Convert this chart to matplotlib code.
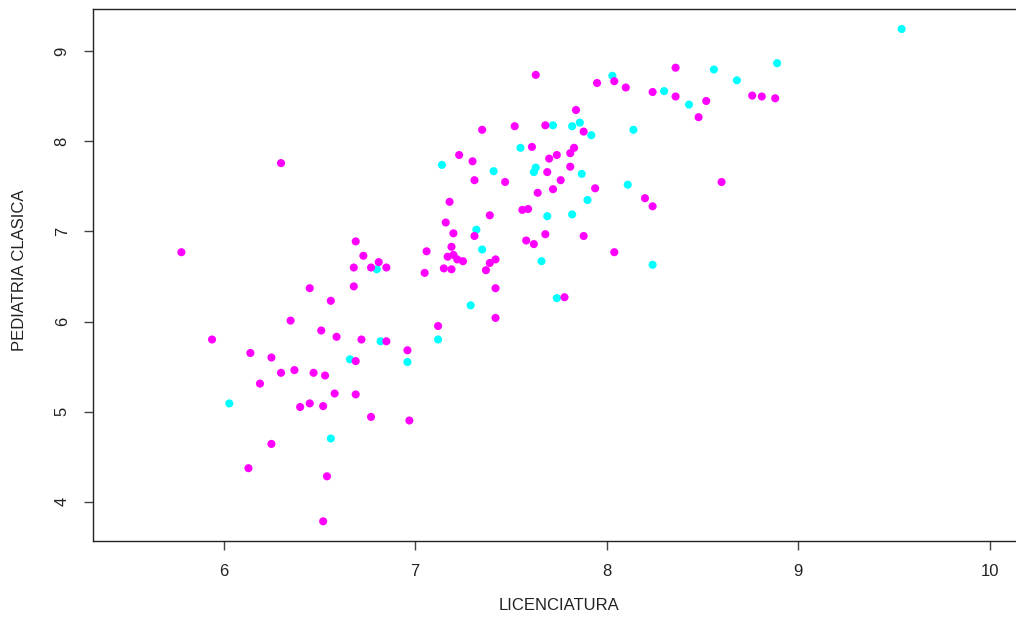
import matplotlib
matplotlib.use("Agg")
import matplotlib.pyplot as plt

# Scores of students in the two groups
lic_magenta = [5.78, 5.94, 6.30, 6.14, 6.25, 6.19, 6.30, 6.37, 6.35, 6.13,
               6.25, 6.45, 6.47, 6.40, 6.45, 6.51, 6.53, 6.52, 6.56, 6.58,
               6.54, 6.52, 6.59, 6.69, 6.68, 6.68, 6.69, 6.73, 6.77, 6.81,
               6.85, 6.72, 6.85, 6.96, 6.69, 6.77, 6.97, 7.06, 7.05, 7.15,
               7.19, 7.16, 7.20, 7.31, 7.18, 7.19, 7.17, 7.20, 7.22, 7.25,
               7.39, 7.42, 7.37, 7.39, 7.56, 7.59, 7.58, 7.62, 7.68, 7.88,
               8.04, 7.42, 7.78, 7.42, 7.12, 7.23, 7.30, 7.31, 7.47, 7.35,
               7.52, 7.68, 7.88, 7.61, 7.70, 7.74, 7.81, 7.83, 7.81, 7.69,
               7.76, 7.72, 7.64, 7.94, 8.20, 8.24, 8.60, 7.84, 7.63, 7.95,
               8.04, 8.10, 8.36, 8.24, 8.36, 8.52, 8.48, 8.76, 8.81, 8.88]
ped_magenta = [6.77, 5.80, 7.76, 5.65, 5.60, 5.31, 5.43, 5.46, 6.01, 4.37,
               4.64, 6.37, 5.43, 5.05, 5.09, 5.90, 5.40, 5.06, 6.23, 5.20,
               4.28, 3.78, 5.83, 5.19, 6.39, 6.60, 6.89, 6.73, 6.60, 6.66,
               6.60, 5.80, 5.78, 5.68, 5.56, 4.94, 4.90, 6.78, 6.54, 6.59,
               6.58, 7.10, 6.98, 6.95, 7.33, 6.83, 6.72, 6.74, 6.69, 6.67,
               6.65, 6.69, 6.57, 7.18, 7.24, 7.25, 6.90, 6.86, 6.97, 6.95,
               6.77, 6.37, 6.27, 6.04, 5.95, 7.85, 7.78, 7.57, 7.55, 8.13,
               8.17, 8.18, 8.11, 7.94, 7.81, 7.85, 7.87, 7.93, 7.72, 7.66,
               7.57, 7.47, 7.43, 7.48, 7.37, 7.28, 7.55, 8.35, 8.74, 8.65,
               8.67, 8.60, 8.82, 8.55, 8.50, 8.45, 8.27, 8.51, 8.50, 8.48]

lic_cyan = [6.03, 6.56, 6.66, 6.80, 6.82, 6.96, 7.12, 7.29, 7.14, 7.41,
            7.32, 7.35, 7.55, 7.63, 7.62, 7.66, 7.69, 7.82, 7.72, 7.82,
            7.86, 7.92, 7.87, 7.90, 7.74, 8.03, 8.14, 8.11, 8.24, 8.30,
            8.43, 8.56, 8.68, 8.89, 9.54]
ped_cyan = [5.09, 4.70, 5.58, 6.58, 5.78, 5.55, 5.80, 6.18, 7.74, 7.67,
            7.02, 6.80, 7.93, 7.71, 7.66, 6.67, 7.17, 7.19, 8.18, 8.17,
            8.21, 8.07, 7.64, 7.35, 6.26, 8.73, 8.13, 7.52, 6.63, 8.56,
            8.41, 8.80, 8.68, 8.87, 9.25]

x_ticks = [6, 7, 8, 9, 10]
y_ticks = [4, 5, 6, 7, 8, 9]
x_range = (5.5, 10.0)

plt.rcParams['font.family'] = ['Liberation Sans', 'DejaVu Sans']

W, H = 1016, 619
fig = plt.figure(figsize=(W / 100, H / 100), dpi=100)
fig.patch.set_facecolor('white')

# plot region in pixels (right edge runs slightly past the canvas)
left_px, right_px, top_px, bottom_px = 93.3, 1024.2, 9.3, 541.0
ax = fig.add_axes([left_px / W, (H - bottom_px) / H,
                   (right_px - left_px) / W, (bottom_px - top_px) / H])

ms = 34
ax.scatter(lic_cyan, ped_cyan, s=ms, color='#00FFFF', edgecolors='none', zorder=3)
ax.scatter(lic_magenta, ped_magenta, s=ms, color='#FF00FF', edgecolors='none', zorder=4)


def padded(lo, hi):
    """Axis range widened by 4% on each side."""
    d = (hi - lo) * 0.04
    return lo - d, hi + d


all_y = ped_magenta + ped_cyan
ax.set_xlim(*padded(*x_range))
ax.set_ylim(*padded(min(all_y), max(all_y)))

ax.set_xticks(x_ticks)
ax.set_yticks(y_ticks)
ax.set_xticklabels([str(t) for t in x_ticks])
ax.set_yticklabels([str(t) for t in y_ticks], rotation=90, va='center')

for sp in ax.spines.values():
    sp.set_color('#222222')
    sp.set_linewidth(1.0)

ax.tick_params(axis='both', direction='out', length=6.5, width=1.0,
               color='#444444', labelsize=12, labelcolor='#222222')
ax.tick_params(axis='x', pad=10)
ax.tick_params(axis='y', pad=10.5)

ax.set_xlabel('LICENCIATURA', fontsize=12, color='#222222', va='center')
ax.set_ylabel('PEDIATRIA CLASICA', fontsize=12, color='#222222', va='center')
plot_h = bottom_px - top_px
plot_w = right_px - left_px
ax.xaxis.set_label_coords(0.5, (bottom_px - 606) / plot_h)
ax.yaxis.set_label_coords((20 - left_px) / plot_w, 0.51)

fig.savefig('out.png', dpi=100, facecolor='white')
